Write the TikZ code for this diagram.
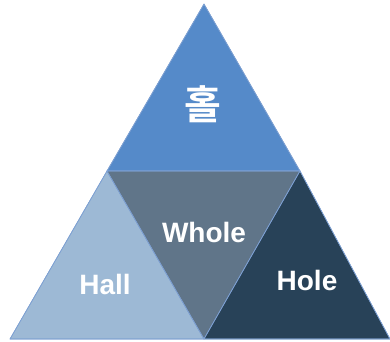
\documentclass[tikz,border=0pt]{standalone}
\usepackage{fontspec}
\setmainfont{Liberation Sans}
\newfontfamily\krfont{Noto Sans CJK KR}[BoldFont={Noto Sans CJK KR Bold}]

\begin{document}
\begin{tikzpicture}[x=1pt,y=-1pt]
        \tikzstyle{every node}=[font=\bfseries\fontsize{28}{30}\selectfont, text=white]
        \tikzstyle{edge}=[draw={rgb,255:red,125; green,160; blue,210}, line width=0.6pt, line join=round]
        \useasboundingbox (0,0) rectangle (390,341);
        \coordinate (apex) at (204,4);
        \coordinate (ml) at (107,171);
        \coordinate (mr) at (300,171);
        \coordinate (bl) at (10,339);
        \coordinate (bm) at (204,339);
        \coordinate (br) at (390,339);
        \fill [edge, fill={rgb,255:red,85; green,138; blue,201}] (apex) -- (mr) -- (ml) -- cycle;
        \fill [edge, fill={rgb,255:red,157; green,185; blue,213}] (ml) -- (bm) -- (bl) -- cycle;
        \fill [edge, fill={rgb,255:red,96; green,117; blue,137}] (ml) -- (mr) -- (bm) -- cycle;
        \fill [edge, fill={rgb,255:red,40; green,66; blue,88}] (mr) -- (br) -- (bm) -- cycle;
        \draw [edge] (apex) -- (mr) -- (ml) -- cycle;
        \draw [edge] (ml) -- (bm) -- (bl) -- cycle;
        \draw [edge] (mr) -- (br) -- (bm) -- cycle;
        \node (hol) at (203,104) {\krfont\bfseries\fontsize{40}{42}\selectfont 홀};
        \node (whole) at (204,232) {Whole};
        \node (hall) at (105,284) {Hall};
        \node (hole) at (307,280) {Hole};
    \end{tikzpicture}
\end{document}
